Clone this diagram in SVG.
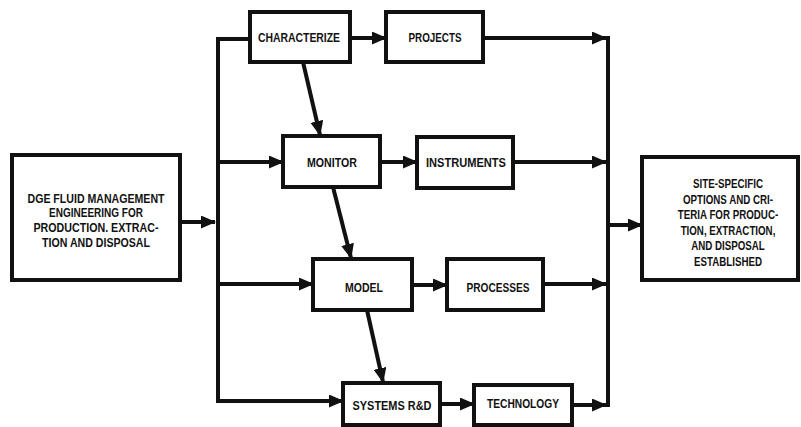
<svg xmlns="http://www.w3.org/2000/svg" width="801" height="427" viewBox="0 0 801 427">
<style>
.box{fill:#fff;stroke:#111;stroke-width:4}
.t{font-family:"Liberation Sans",Arial,sans-serif;font-weight:bold;font-size:13px;fill:#111;text-anchor:middle}
.c{stroke:#111;stroke-width:4;fill:none}
</style>
<defs>
<marker id="ah" markerUnits="userSpaceOnUse" markerWidth="15" markerHeight="13" refX="14" refY="6.5" orient="auto">
<path d="M0,0 L15,6.5 L0,13 Z" fill="#111"/>
</marker>
</defs>
<rect width="801" height="427" fill="#fff"/>
<g id="connectors">
<line class="c" x1="180" y1="222" x2="215" y2="222" marker-end="url(#ah)"/>
<polyline class="c" points="248,39 218,39 218,401 343,401" marker-end="url(#ah)"/>
<line class="c" x1="218" y1="162" x2="283" y2="162" marker-end="url(#ah)"/>
<line class="c" x1="218" y1="284" x2="313" y2="284" marker-end="url(#ah)"/>
<line class="c" x1="350" y1="38" x2="386" y2="38" marker-end="url(#ah)"/>
<line class="c" x1="380" y1="162" x2="417" y2="162" marker-end="url(#ah)"/>
<line class="c" x1="412" y1="285" x2="447" y2="285" marker-end="url(#ah)"/>
<line class="c" x1="440" y1="404" x2="474" y2="404" marker-end="url(#ah)"/>
<line class="c" x1="483" y1="38" x2="606" y2="38" marker-end="url(#ah)"/>
<line class="c" x1="513" y1="162" x2="606" y2="162" marker-end="url(#ah)"/>
<line class="c" x1="543" y1="284" x2="606" y2="284" marker-end="url(#ah)"/>
<line class="c" x1="572" y1="405" x2="606" y2="405" marker-end="url(#ah)"/>
<line class="c" x1="608" y1="36" x2="608" y2="407"/>
<line class="c" x1="608" y1="225" x2="642" y2="225" marker-end="url(#ah)"/>
<line class="c" x1="303" y1="62" x2="320" y2="135" marker-end="url(#ah)"/>
<line class="c" x1="333" y1="187" x2="351" y2="258" marker-end="url(#ah)"/>
<line class="c" x1="367" y1="310" x2="383" y2="382" marker-end="url(#ah)"/>
</g>
<g id="n-input">
<rect class="box" x="12" y="155" width="168" height="125"/>
<text class="t" x="96" y="202.5" textLength="137" lengthAdjust="spacingAndGlyphs">DGE FLUID MANAGEMENT</text>
<text class="t" x="96" y="217" textLength="94" lengthAdjust="spacingAndGlyphs">ENGINEERING FOR</text>
<text class="t" x="96" y="232" textLength="125" lengthAdjust="spacingAndGlyphs">PRODUCTION. EXTRAC-</text>
<text class="t" x="96" y="247" textLength="108" lengthAdjust="spacingAndGlyphs">TION AND DISPOSAL</text>
</g>
<g id="n-characterize">
<rect class="box" x="250" y="12" width="100" height="50"/>
<text class="t" x="299" y="42" textLength="82" lengthAdjust="spacingAndGlyphs">CHARACTERIZE</text>
</g>
<g id="n-projects">
<rect class="box" x="386" y="12" width="97" height="50"/>
<text class="t" x="435" y="42" textLength="53" lengthAdjust="spacingAndGlyphs">PROJECTS</text>
</g>
<g id="n-monitor">
<rect class="box" x="283" y="136" width="97" height="51"/>
<text class="t" x="332" y="167" textLength="50" lengthAdjust="spacingAndGlyphs">MONITOR</text>
</g>
<g id="n-instruments">
<rect class="box" x="417" y="137" width="96" height="51"/>
<text class="t" x="466" y="167" textLength="80" lengthAdjust="spacingAndGlyphs">INSTRUMENTS</text>
</g>
<g id="n-model">
<rect class="box" x="313" y="259" width="99" height="51"/>
<text class="t" x="364" y="292" textLength="38" lengthAdjust="spacingAndGlyphs">MODEL</text>
</g>
<g id="n-processes">
<rect class="box" x="447" y="259" width="96" height="51"/>
<text class="t" x="498" y="292" textLength="63" lengthAdjust="spacingAndGlyphs">PROCESSES</text>
</g>
<g id="n-systems">
<rect class="box" x="343" y="383" width="97" height="42"/>
<text class="t" x="392" y="410" textLength="79" lengthAdjust="spacingAndGlyphs">SYSTEMS R&amp;D</text>
</g>
<g id="n-technology">
<rect class="box" x="474" y="385" width="98" height="40"/>
<text class="t" x="523" y="408" textLength="72" lengthAdjust="spacingAndGlyphs">TECHNOLOGY</text>
</g>
<g id="n-output">
<rect class="box" x="642" y="157" width="156" height="123"/>
<g transform="translate(728,0) scale(0.75,1)">
<text class="t" x="0" y="188">SITE-SPECIFIC</text>
<text class="t" x="0" y="204">OPTIONS AND CRI-</text>
<text class="t" x="0" y="219.5">TERIA FOR PRODUC-</text>
<text class="t" x="0" y="235">TION, EXTRACTION,</text>
<text class="t" x="0" y="250.5">AND DISPOSAL</text>
<text class="t" x="0" y="266">ESTABLISHED</text>
</g>
</g>
</svg>
